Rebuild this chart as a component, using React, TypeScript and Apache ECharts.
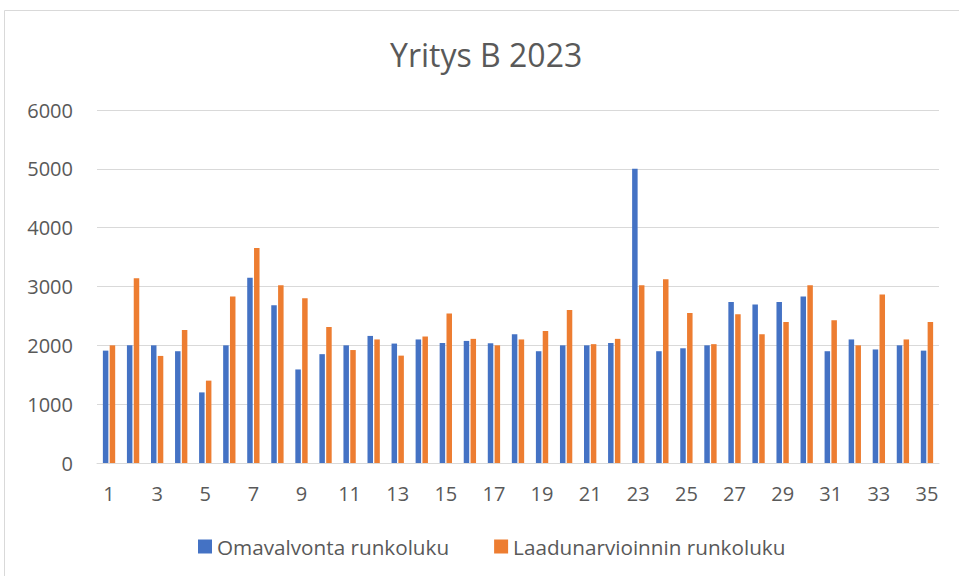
import React, { useEffect, useRef } from "react";
import * as echarts from "echarts";

const categories = Array.from({ length: 35 }, (_, i) => String(i + 1));
const omavalvonta = [
  1910, 2000, 2000, 1900, 1200, 2000, 3150, 2680, 1590, 1850,
  2000, 2160, 2030, 2100, 2040, 2075, 2035, 2190, 1900, 2000,
  2000, 2040, 5000, 1900, 1950, 2000, 2735, 2695, 2735, 2830,
  1900, 2100, 1930, 2000, 1910,
];
const laadunarviointi = [
  2000, 3140, 1820, 2260, 1400, 2830, 3655, 3020, 2800, 2310,
  1920, 2100, 1825, 2150, 2540, 2110, 2000, 2100, 2245, 2600,
  2020, 2110, 3020, 3125, 2550, 2020, 2530, 2190, 2395, 3020,
  2425, 2000, 2865, 2100, 2395,
];
const seriesNames = ["Omavalvonta runkoluku", "Laadunarvioinnin runkoluku"];
const title = "Yritys B 2023";

const FONT = "'Open Sans', 'Liberation Sans', sans-serif";
const TEXT = "#595959";

export default function App() {
  const ref = useRef<HTMLDivElement>(null);
  useEffect(() => {
    if (!ref.current) return;
    const chart = echarts.init(ref.current, null, { renderer: "svg" });
    chart.setOption({
      animation: false,
      backgroundColor: "#ffffff",
      textStyle: { fontFamily: FONT, color: TEXT },
      graphic: [
        {
          type: "rect",
          shape: { x: 4.5, y: 10.5, width: 960, height: 570 },
          style: { fill: "none", stroke: "#d9d9d9", lineWidth: 1 },
          silent: true,
        },
      ],
      title: {
        text: title,
        left: 385,
        top: 33,
        textStyle: { fontFamily: FONT, fontSize: 32, fontWeight: "normal", color: TEXT },
      },
      legend: {
        data: seriesNames,
        bottom: 14,
        left: 193,
        itemWidth: 14,
        itemHeight: 14,
        itemGap: 45,
        icon: "rect",
        textStyle: { fontFamily: FONT, fontSize: 20.7, color: TEXT },
      },
      grid: { left: 97, right: 20, top: 110, bottom: 113, containLabel: false },
      xAxis: {
        type: "category",
        data: categories,
        axisLine: { lineStyle: { color: "#d9d9d9", width: 1 } },
        axisTick: { show: false },
        axisLabel: { interval: 1, fontFamily: FONT, fontSize: 20, color: TEXT, margin: 20 },
      },
      yAxis: {
        type: "value",
        min: 0,
        max: 6000,
        interval: 1000,
        axisLine: { show: false },
        axisTick: { show: false },
        splitLine: { lineStyle: { color: "#d9d9d9", width: 1 } },
        axisLabel: {
          fontFamily: FONT,
          fontSize: 20,
          color: TEXT,
          margin: 24,
          formatter: (v: number) => String(v),
        },
      },
      series: [
        {
          name: seriesNames[0],
          type: "bar",
          data: omavalvonta,
          barWidth: 5.5,
          barGap: "24%",
          itemStyle: { color: "#4472C4" },
        },
        {
          name: seriesNames[1],
          type: "bar",
          data: laadunarviointi,
          barWidth: 5.5,
          barGap: "24%",
          itemStyle: { color: "#ED7D31" },
        },
      ],
    });
    return () => chart.dispose();
  }, []);
  return (
    <div
      ref={ref}
      style={{ position: "fixed", left: 0, top: 0, width: 959, height: 576 }}
    />
  );
}
